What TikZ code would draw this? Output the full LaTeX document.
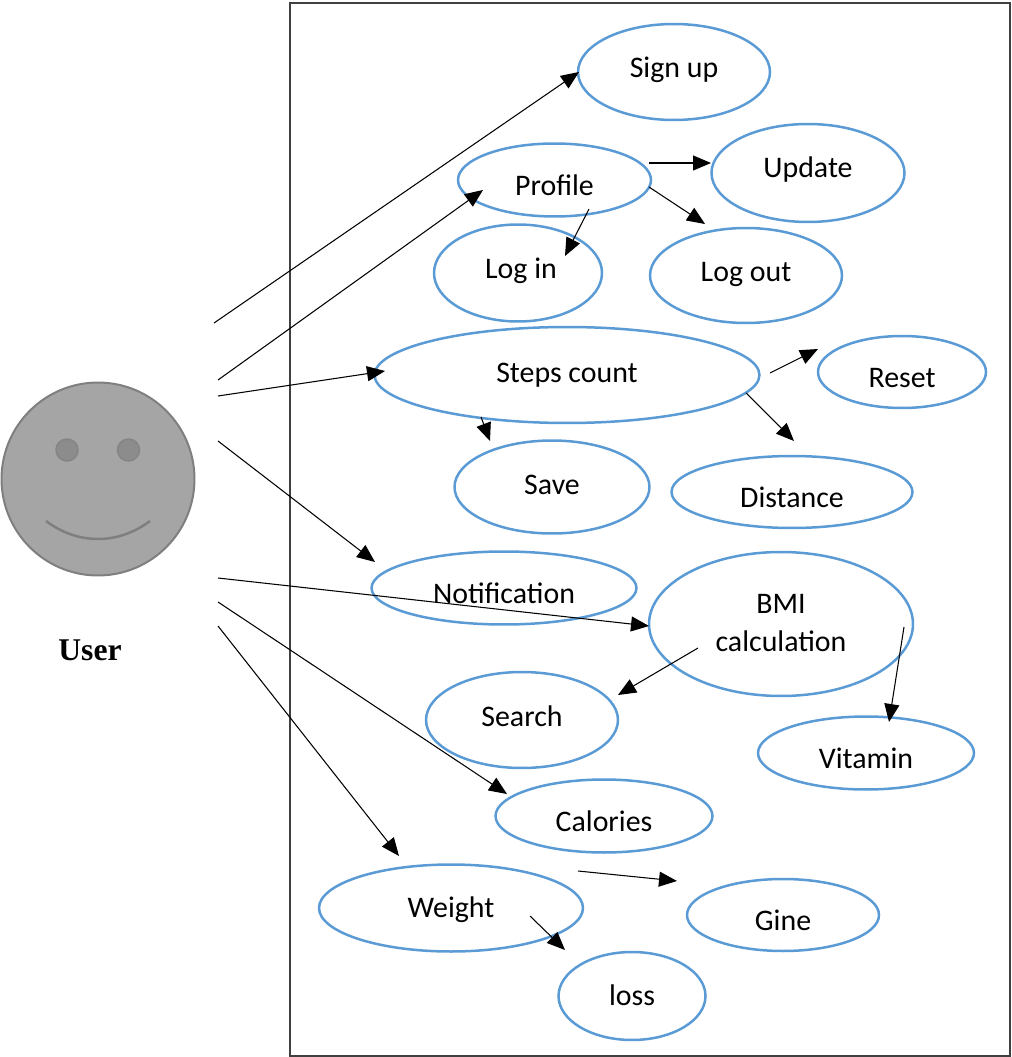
\documentclass[tikz,border=0pt]{standalone}
\usepackage{fontspec}
\setmainfont{Carlito}
\newfontfamily\userfont{Liberation Serif}
\usetikzlibrary{arrows.meta}
\usetikzlibrary{shapes.geometric}
\definecolor{caseblue}{HTML}{5B9BD5}
\definecolor{facegray}{HTML}{A5A5A5}
\definecolor{faceline}{HTML}{7F7F7F}
\definecolor{eyegray}{HTML}{8C8C8C}
\tikzset{>={Triangle[length=0.36cm, width=0.3cm]}}
\tikzset{usecase-line/.style={->, black, line width=0.6pt}}
\tikzset{usecase-text/.style={font=\fontsize{17}{22}\selectfont, align=center, inner sep=0}}
\tikzset{usecase/.style 2 args={draw=caseblue, ellipse, line width=0.05cm, inner sep=0, minimum width=#1cm, minimum height=#2cm}}

\begin{document}
\begin{tikzpicture}[x=0.02cm, y=-0.02cm]
            \useasboundingbox (0,0) rectangle (1011,1057);
            \draw[black!75, line width=0.6pt] (290,3) rectangle (1010,1056);

            % actor
            \node[circle, draw=faceline, fill=facegray, line width=0.04cm, inner sep=0, minimum size=3.86cm] (user) at (98,479) {};
            \node[circle, draw=faceline!85!facegray, fill=eyegray, line width=0.03cm, inner sep=0, minimum size=0.44cm] (eyeL) at (67,450) {};
            \node[circle, draw=faceline!85!facegray, fill=eyegray, line width=0.03cm, inner sep=0, minimum size=0.44cm] (eyeR) at (128.5,450) {};
            \draw[faceline, line width=0.05cm] ([shift={(-52,42)}]user.center) .. controls ([shift={(-20,66)}]user.center) and ([shift={(20,66)}]user.center) .. ([shift={(52,42)}]user.center);
            \node[font=\userfont\bfseries\fontsize{18}{20}\selectfont, inner sep=0] (userlabel) at (90,650) {User};

            % use cases
            \node[usecase={3.84}{1.92}, label={[usecase-text, shift={(0,-2)}]center:Sign up}] (signup) at (674,72) {};
            \node[usecase={3.86}{1.46}, label={[usecase-text, shift={(0,5)}]center:Profile}] (profile) at (554.5,180) {};
            \node[usecase={3.86}{1.96}, label={[usecase-text, shift={(0,-3)}]center:Update}] (update) at (808,173) {};
            \node[usecase={3.36}{1.94}, label={[usecase-text, shift={(3,-2)}]center:Log in}] (login) at (518,273) {};
            \node[usecase={3.84}{1.90}, label={[usecase-text, shift={(0,-1)}]center:Log out}] (logout) at (746,275.5) {};

            \node[usecase={7.70}{1.92}, label={[usecase-text]center:Steps count}] (steps) at (567,375) {};
            \node[usecase={3.36}{1.44}, label={[usecase-text, shift={(0,6)}]center:Reset}] (reset) at (902,372) {};
            \node[usecase={3.90}{1.86}, label={[usecase-text, shift={(0,-2)}]center:Save}] (save) at (552,487) {};
            \node[usecase={4.82}{1.44}, label={[usecase-text, shift={(0,5)}]center:Distance}] (distance) at (792,492) {};

            \node[usecase={5.30}{1.46}, label={[usecase-text, shift={(0,5)}]center:Notification}] (notification) at (504,588) {};
            \node[usecase={5.28}{2.88}, label={[usecase-text, shift={(0,-1)}]center:BMI\\calculation}] (bmi) at (781,624) {};
            \node[usecase={3.84}{1.92}, label={[usecase-text, shift={(0,-4)}]center:Search}] (search) at (522,720) {};
            \node[usecase={4.32}{1.46}, label={[usecase-text, shift={(0,5)}]center:Vitamin}] (vitamin) at (866,753) {};
            \node[usecase={4.34}{1.46}, label={[usecase-text, shift={(0,5)}]center:Calories}] (calories) at (604,816) {};

            \node[usecase={5.28}{1.74}, label={[usecase-text, shift={(0,2)}]center:Weight}] (weight) at (451,908) {};
            \node[usecase={3.84}{1.44}, label={[usecase-text, shift={(0,5)}]center:Gine}] (gine) at (783,915) {};
            \node[usecase={2.94}{1.76}, label={[usecase-text, shift={(0,-1)}]center:loss}] (loss) at (632,996) {};

            % actor to use cases
            \draw[usecase-line] ([shift={(116,-156)}]user.center) -- ([shift={(-95,0)}]signup.center);
            \draw[usecase-line] ([shift={(120,-99)}]user.center) -- ([shift={(-71.5,10)}]profile.center);
            \draw[usecase-line] ([shift={(120,-83)}]user.center) -- ([shift={(-182,-4)}]steps.center);
            \draw[usecase-line] ([shift={(120,-38)}]user.center) -- ([shift={(-129,-26)}]notification.center);
            \draw[usecase-line] ([shift={(120,99)}]user.center) -- ([shift={(-132,2)}]bmi.center);
            \draw[usecase-line] ([shift={(120,123)}]user.center) -- ([shift={(-97,-22)}]calories.center);
            \draw[usecase-line] ([shift={(120,147)}]user.center) -- ([shift={(-52,-52)}]weight.center);

            % between use cases
            \draw[usecase-line] ([shift={(94.5,-17)}]profile.center) -- ([shift={(-97,-10)}]update.center);
            \draw[usecase-line] ([shift={(94.5,7)}]profile.center) -- ([shift={(-41,-51.5)}]logout.center);
            \draw[usecase-line] ([shift={(34.5,29)}]profile.center) -- ([shift={(47,-17)}]login.center);

            \draw[usecase-line] ([shift={(203,-2)}]steps.center) -- ([shift={(-84,-23)}]reset.center);
            \draw[usecase-line] ([shift={(179,18)}]steps.center) -- ([shift={(2,-51)}]distance.center);
            \draw[usecase-line] ([shift={(-86,42)}]steps.center) -- ([shift={(-62,-46)}]save.center);

            \draw[usecase-line] ([shift={(-83,24)}]bmi.center) -- ([shift={(96,-25)}]search.center);
            \draw[usecase-line] ([shift={(123,3)}]bmi.center) -- ([shift={(23,-31)}]vitamin.center);

            \draw[usecase-line] ([shift={(127,-37)}]weight.center) -- ([shift={(-106,-34)}]gine.center);
            \draw[usecase-line] ([shift={(79,8)}]weight.center) -- ([shift={(-67,-46)}]loss.center);
        \end{tikzpicture}
\end{document}
